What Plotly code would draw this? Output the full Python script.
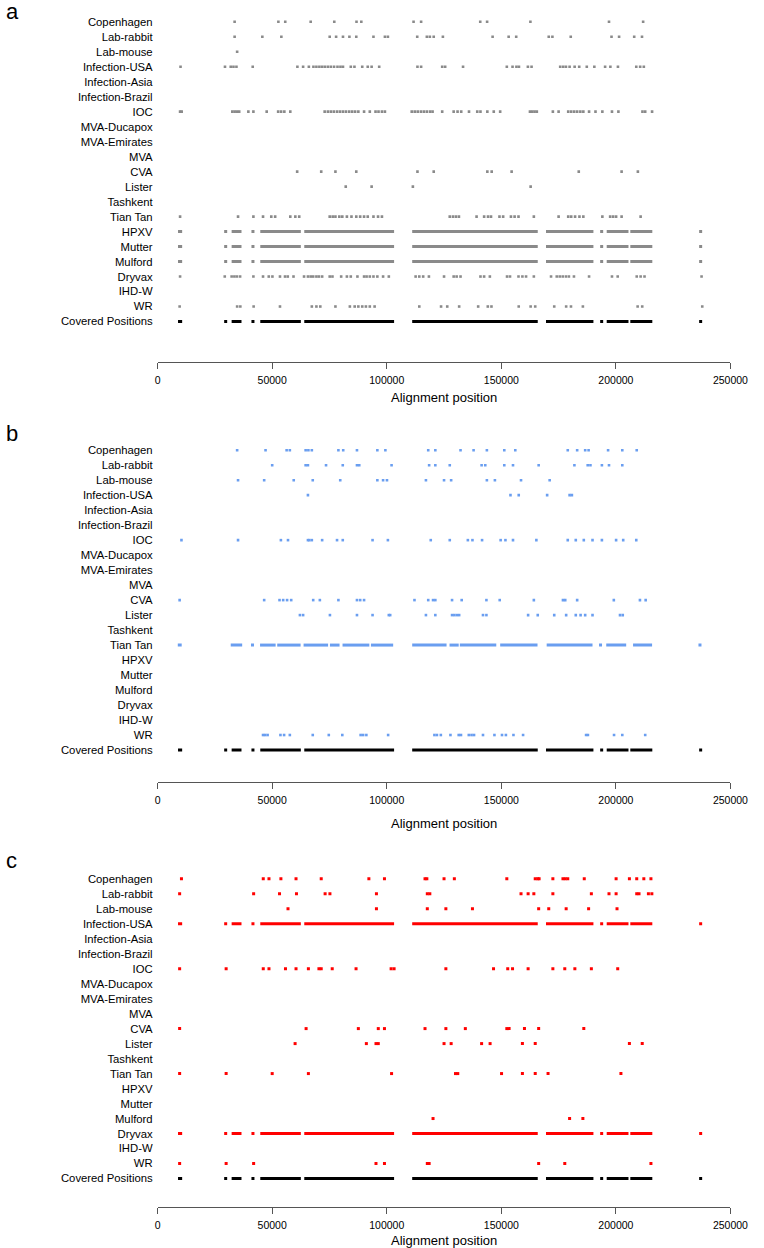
import plotly.graph_objects as go

# ---------------- data ----------------
ROWS = ["Copenhagen", "Lab-rabbit", "Lab-mouse", "Infection-USA", "Infection-Asia",
        "Infection-Brazil", "IOC", "MVA-Ducapox", "MVA-Emirates", "MVA", "CVA", "Lister",
        "Tashkent", "Tian Tan", "HPXV", "Mutter", "Mulford", "Dryvax", "IHD-W", "WR",
        "Covered Positions"]
X_TICKS = [0, 50000, 100000, 150000, 200000, 250000]
PANEL_LETTERS = ["a", "b", "c"]
PANEL_COLORS = ["#8a8a8a", "#6a9ef0", "#ff0000"]
COVERED_COLOR = "#000000"

# covered alignment stretches (start, end) and isolated covered positions
COVERED_SEGMENTS = [(8900, 10700), (32300, 36600), (44800, 62500), (64000, 103200),
                    (111100, 165900), (169500, 190200), (196000, 205500), (206300, 215900)]
COVERED_DOTS = [29700, 41600, 193800, 237000]

# ---- panel a ----
A_COPENHAGEN = [33600, 52700, 55700, 66800, 77100, 86800, 88900, 111700, 115000, 140800,
                143800, 162700, 197000, 211900]
A_LAB_RABBIT = [33600, 45700, 54000, 75100, 77900, 80900, 83700, 86700, 94200, 99200, 100500,
                113300, 117500, 118800, 120500, 124500, 146200, 153200, 156500, 170700, 172300,
                180300, 198100, 201400, 208000, 211400]
A_LAB_MOUSE = [34700]
A_INFECTION_USA = [10000, 29400, 31900, 33100, 34400, 41500, 61000, 63500, 66000, 68000, 69300,
                   70600, 71800, 73000, 74300, 75600, 77000, 78500, 79800, 80900, 84300, 85900,
                   89300, 91700, 93400, 96700, 113400, 115000, 124200, 125500, 133300, 152400,
                   154900, 156600, 157700, 161600, 163200, 175700, 177000, 178200, 179800,
                   182000, 184000, 187300, 190600, 195300, 197600, 200900, 208900, 210600, 212200]
A_IOC = [9800, 10500, 32600, 33600, 34600, 35600, 39600, 41800, 47600, 52600, 53900, 55300,
         57900, 72900, 74300, 75600, 76900, 78300, 79600, 80900, 82200, 83600, 84900, 86200,
         87600, 90100, 92600, 95100, 96400, 97900, 99200, 110900, 112200, 113500, 114900,
         116200, 117500, 118900, 120000, 124200, 129200, 130900, 132500, 135900, 139500,
         140900, 143900, 146700, 149500, 162500, 163500, 164500, 165500, 172500, 175000,
         179200, 180500, 181800, 183100, 184500, 185800, 188300, 191100, 194100, 198300,
         201100, 211600, 212800, 215800]
A_CVA = [60900, 71400, 77600, 86700, 113400, 120500, 143900, 145800, 154500, 183800, 202500,
         209600]
A_LISTER = [82100, 93400, 111400, 162800]
A_TIAN_TAN = [9800, 35100, 41800, 46000, 49600, 51300, 57900, 60100, 61800, 75100, 76400,
              77600, 79300, 80600, 82600, 84600, 86700, 88400, 90100, 91700, 94200, 96200,
              97900, 127500, 128900, 130200, 131500, 139200, 142500, 144200, 145500, 149200,
              150800, 154200, 155800, 157500, 164200, 175000, 179200, 180500, 182200, 184100,
              185800, 194100, 197500, 198800, 200100, 202500, 210800]
A_DRYVAX = [9800, 29300, 32300, 33500, 34600, 36000, 41800, 46000, 48500, 50100, 53400, 55600,
            56800, 59300, 63900, 65600, 66800, 67900, 69300, 70400, 71800, 75100, 76300, 80100,
            82600, 84300, 87200, 90100, 91200, 92600, 94200, 95900, 98400, 100900, 112600,
            114200, 115900, 118400, 125000, 129200, 130500, 132200, 140900, 142500, 145000,
            152500, 153800, 157500, 159200, 160800, 164200, 171700, 174200, 175500, 176800,
            178200, 179500, 181700, 188300, 198300, 200800, 209100, 210800, 212500, 237400]
A_WR = [9600, 34700, 36100, 41900, 53400, 67300, 69300, 71000, 77600, 83900, 86000, 87600,
        89300, 90900, 92600, 94700, 114200, 123700, 126400, 131600, 139900, 144100, 145700,
        157600, 162800, 164800, 173100, 178300, 180400, 185600, 209500, 211500, 237700]

# ---- panel b ----
B_COPENHAGEN = [34700, 47100, 56300, 57700, 64600, 65800, 67300, 78900, 81000, 87000, 95900,
                99400, 118100, 121200, 132200, 137900, 143700, 151300, 156100, 179000, 183100,
                186600, 188100, 196600, 202800, 209100]
B_LAB_RABBIT = [50000, 64600, 65600, 73500, 80800, 87000, 88000, 102100, 118500, 121200,
                127500, 141400, 143000, 151300, 155100, 166300, 181900, 187700, 188900, 193900,
                197000, 202800]
B_LAB_MOUSE = [35100, 46500, 59400, 67700, 79700, 95900, 98400, 100100, 117100, 125000, 128100,
               143700, 147200, 158600, 171100]
B_INFECTION_USA = [65600, 154000, 157600, 170000, 179800, 180800]
B_IOC = [10400, 35100, 53800, 56900, 65600, 66200, 67300, 71800, 78300, 80800, 93800, 100500,
         119200, 127500, 135400, 137400, 141600, 149700, 151800, 155100, 165300, 179000,
         182500, 186000, 189800, 193900, 200100, 203200, 208900]
B_CVA = [9600, 46500, 53200, 54800, 56500, 58300, 67900, 70800, 78900, 87000, 88400, 90100,
         112100, 118100, 120200, 121200, 128500, 132700, 143500, 149300, 164200, 176900,
         177900, 183100, 199100, 210500, 213000]
B_LISTER = [62100, 63500, 75200, 87000, 93800, 100900, 101500, 117100, 121200, 128500, 129500,
            130600, 131600, 142000, 143500, 161700, 165900, 173100, 178300, 182500, 184600,
            186600, 189800, 201800, 203000]
B_TIAN_TAN_SEGMENTS = [(8800, 10500), (31900, 36900), (44700, 51500), (52200, 62400),
                       (63700, 74400), (75200, 79400), (80700, 92400), (93100, 102800),
                       (111100, 126100), (127400, 131400), (131900, 147800), (149500, 165800),
                       (169800, 189800), (195800, 204500), (207500, 215800)]
B_TIAN_TAN_DOTS = [41400, 193300, 236700]
B_WR = [46000, 46900, 48000, 53600, 55200, 57700, 67700, 74700, 80600, 88600, 89700, 91100,
        100600, 120800, 121900, 123600, 127800, 131400, 132400, 135800, 137000, 138100, 142000,
        147000, 150300, 152000, 155300, 159500, 187000, 187800, 199200, 202800, 212800]

# ---- panel c ----
C_COPENHAGEN = [10400, 46100, 48600, 53800, 60400, 71400, 92200, 99000, 116700, 117500, 125000,
                129500, 152400, 164800, 165900, 166500, 172500, 176900, 177900, 179000, 186200,
                200100, 205900, 209100, 212200, 215300]
C_LAB_RABBIT = [9600, 41900, 53200, 60600, 73100, 75200, 95500, 117700, 118800, 158600, 161700,
                164200, 172500, 189300, 197000, 200100, 209100, 210100, 214200, 215700]
C_LAB_MOUSE = [56900, 95500, 117700, 125800, 137400, 166300, 170700, 178300, 188100, 200500]
C_IOC = [9600, 29900, 46100, 48600, 55800, 60400, 65800, 70400, 71400, 76200, 86600, 101900,
         103200, 125800, 146600, 152800, 154900, 161700, 172500, 177700, 182100, 189300, 200800]
C_CVA = [9600, 64800, 87600, 96300, 99000, 116700, 125800, 134300, 152400, 153400, 160100,
         166300, 186000]
C_LISTER = [60000, 91100, 95300, 96300, 125000, 128100, 141400, 145100, 159200, 164800, 205900,
            211500]
C_TIAN_TAN = [9600, 29900, 50000, 65800, 102100, 130000, 131000, 150100, 159200, 164800, 170400,
              202200]
C_MULFORD = [120200, 179800, 185600]
C_WR = [9600, 29900, 41900, 95300, 99000, 117700, 118500, 166300, 177700, 215300]

# ---------------- layout helpers ----------------
W, H = 764, 1248
PANEL_TOPS = [0, 428.5, 857]          # top of each panel block (px)
AXIS_PX = [362, 782, 1207]            # x-axis line position of each panel (px)
TITLE_PX = [397, 823, 1240]           # x-axis title centre (px)
LETTER_PX = [12, 433, 860]            # panel letter centre (px)
FIRST_ROW_OFFSET = 21.7               # first row centre below panel top (px)
PX_PER_ROW = 14.99
X_LEFT_PX, X_RIGHT_PX = 159, 748
Y_TOP = 20.5
ypos = {name: len(ROWS) - 1 - i for i, name in enumerate(ROWS)}

panels = [
    dict(dots={"Copenhagen": A_COPENHAGEN, "Lab-rabbit": A_LAB_RABBIT, "Lab-mouse": A_LAB_MOUSE,
               "Infection-USA": A_INFECTION_USA, "IOC": A_IOC, "CVA": A_CVA, "Lister": A_LISTER,
               "Tian Tan": A_TIAN_TAN, "Dryvax": A_DRYVAX, "WR": A_WR},
         segs={"HPXV": (COVERED_SEGMENTS, COVERED_DOTS), "Mutter": (COVERED_SEGMENTS, COVERED_DOTS),
               "Mulford": (COVERED_SEGMENTS, COVERED_DOTS)},
         msize=2.6),
    dict(dots={"Copenhagen": B_COPENHAGEN, "Lab-rabbit": B_LAB_RABBIT, "Lab-mouse": B_LAB_MOUSE,
               "Infection-USA": B_INFECTION_USA, "IOC": B_IOC, "CVA": B_CVA, "Lister": B_LISTER,
               "WR": B_WR},
         segs={"Tian Tan": (B_TIAN_TAN_SEGMENTS, B_TIAN_TAN_DOTS)},
         msize=2.6),
    dict(dots={"Copenhagen": C_COPENHAGEN, "Lab-rabbit": C_LAB_RABBIT, "Lab-mouse": C_LAB_MOUSE,
               "IOC": C_IOC, "CVA": C_CVA, "Lister": C_LISTER, "Tian Tan": C_TIAN_TAN,
               "Mulford": C_MULFORD, "WR": C_WR},
         segs={"Infection-USA": (COVERED_SEGMENTS, COVERED_DOTS),
               "Dryvax": (COVERED_SEGMENTS, COVERED_DOTS)},
         msize=3),
]

fig = go.Figure()
FONT = "Liberation Sans, Arial, sans-serif"
annotations = []

for k, panel in enumerate(panels):
    top, color, letter = PANEL_TOPS[k], PANEL_COLORS[k], PANEL_LETTERS[k]
    sfx = "" if k == 0 else str(k + 1)
    xref, yref = "x" + sfx, "y" + sfx

    def seg_traces(segs, dots, row, col):
        xs, ys = [], []
        for s, e in segs:
            xs += [s, e, None]
            ys += [ypos[row], ypos[row], None]
        fig.add_trace(go.Scatter(x=xs, y=ys, mode="lines", line=dict(color=col, width=3),
                                 xaxis=xref, yaxis=yref, hoverinfo="skip"))
        fig.add_trace(go.Scatter(x=dots, y=[ypos[row]] * len(dots), mode="markers",
                                 marker=dict(symbol="square", size=3, color=col, line_width=0),
                                 xaxis=xref, yaxis=yref, hoverinfo="skip"))

    xs, ys = [], []
    for row, vals in panel["dots"].items():
        xs += vals
        ys += [ypos[row]] * len(vals)
    fig.add_trace(go.Scatter(x=xs, y=ys, mode="markers",
                             marker=dict(symbol="square", size=panel["msize"], color=color,
                                         line_width=0),
                             xaxis=xref, yaxis=yref, hoverinfo="skip"))
    for row, (segs, dots) in panel["segs"].items():
        seg_traces(segs, dots, row, color)
    seg_traces(COVERED_SEGMENTS, COVERED_DOTS, "Covered Positions", COVERED_COLOR)

    top_px = top + FIRST_ROW_OFFSET - 0.5 * PX_PER_ROW
    bot_px = AXIS_PX[k]
    y_bottom = Y_TOP - (bot_px - top_px) / PX_PER_ROW
    fig.layout["xaxis" + sfx] = dict(
        domain=[X_LEFT_PX / W, X_RIGHT_PX / W], range=[0, 250000], anchor=yref,
        tickvals=X_TICKS, ticktext=[str(v) for v in X_TICKS],
        showgrid=False, zeroline=False, showline=True, linecolor="#555555", linewidth=1,
        ticks="outside", ticklen=6, tickcolor="#555555", tickwidth=1,
        ticklabeloverflow="allow", ticklabelstandoff=2,
        tickfont=dict(family=FONT, size=10.5, color="#000000"),
    )
    fig.layout["yaxis" + sfx] = dict(
        domain=[1 - bot_px / H, 1 - top_px / H], range=[y_bottom, Y_TOP], anchor=xref,
        tickvals=[ypos[r] for r in ROWS], ticktext=ROWS,
        showgrid=False, zeroline=False, showline=False, ticks="",
        ticklabelstandoff=4,
        tickfont=dict(family=FONT, size=11.3, color="#000000"),
    )
    annotations.append(dict(text=letter, x=1 / W, y=1 - LETTER_PX[k] / H, xref="paper",
                            yref="paper", xanchor="left", yanchor="middle", showarrow=False,
                            font=dict(family=FONT, size=22, color="#000000")))
    annotations.append(dict(text="Alignment position", x=(X_LEFT_PX + X_RIGHT_PX) / 2 / W,
                            y=1 - TITLE_PX[k] / H, xref="paper", yref="paper",
                            xanchor="center", yanchor="middle", showarrow=False,
                            font=dict(family=FONT, size=13, color="#000000")))

fig.update_layout(width=W, height=H, margin=dict(l=0, r=0, t=0, b=0),
                  paper_bgcolor="white", plot_bgcolor="white", showlegend=False,
                  annotations=annotations)

fig.write_html("out.html", config={"displayModeBar": False},
               post_script="document.body.style.margin='0';document.body.style.padding='0';")
